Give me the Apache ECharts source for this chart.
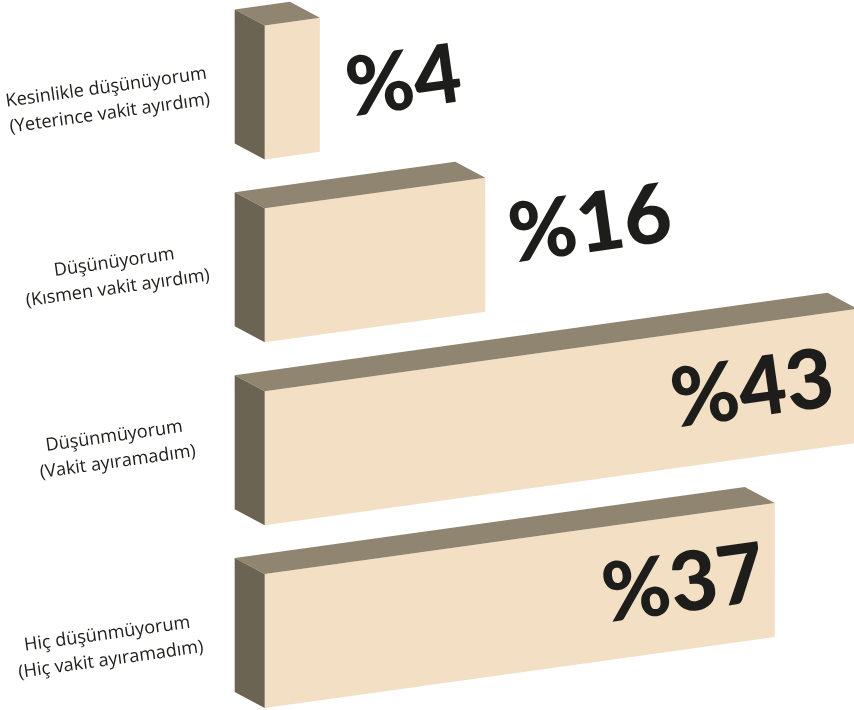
<!DOCTYPE html>
<html><head><meta charset="utf-8">
<script src="https://cdn.jsdelivr.net/npm/echarts@6/dist/echarts.min.js"></script>
<style>html,body{margin:0;background:#fff}#c{width:854px;height:710px}</style></head>
<body><div id="c"></div>
<script>
const categories = [
  'Kesinlikle düşünüyorum\n(Yeterince vakit ayırdım)',
  'Düşünüyorum\n(Kısmen vakit ayırdım)',
  'Düşünmüyorum\n(Vakit ayıramadım)',
  'Hiç düşünmüyorum\n(Hiç vakit ayıramadım)'
];
const values = [4, 16, 43, 37];

const FRONT = '#f3dfc3', TOP = '#8f8570', SIDE = '#6c6452', INK = '#1d1d1b';
const SLOPE = 0.139, DEPTH_X = 30, DEPTH_Y = 16, HALF = 67;
const labelPos = [[108, 8], [116, 0], [116, -9], [109, 6]];
const valuePos = [[84, -10], [105, -50], [-105, -68], [-91, -56]];

const chart = echarts.init(document.getElementById('c'), null, {renderer: 'canvas'});
chart.setOption({
  animation: false,
  grid: {left: 264.7, width: 592.8, top: 92.5, height: 548.5, outerBoundsMode: 'none'},
  xAxis: {type: 'value', min: 0, max: 43, show: false},
  yAxis: {type: 'category', data: categories, inverse: true, boundaryGap: false, show: false},
  series: [{
    type: 'custom',
    clip: false,
    data: values.map((v, i) => [v, i]),
    encode: {x: 0, y: 1},
    renderItem(params, api) {
      const i = api.value(1);
      const v = api.value(0);
      const o = api.coord([0, i]);
      const e = api.coord([v, i]);
      const x0 = o[0], x1 = e[0], c = o[1];
      const dy = (x1 - x0) * SLOPE;
      const tl = [x0, c - HALF], bl = [x0, c + HALF];
      const tr = [x1, c - HALF - dy], br = [x1, c + HALF - dy];
      const shift = p => [p[0] - DEPTH_X, p[1] - DEPTH_Y];
      const poly = (points, fill) => ({type: 'polygon', shape: {points}, style: {fill}});
      return {
        type: 'group',
        children: [
          poly([tl, tr, br, bl], FRONT),
          poly([shift(tl), shift(tr), tr, tl], TOP),
          poly([shift(tl), tl, bl, shift(bl)], SIDE),
          {type: 'text', x: labelPos[i][0], y: c + labelPos[i][1], rotation: 8 * Math.PI / 180,
           style: {text: categories[i], fill: INK, font: '400 18.1px "Open Sans"', lineHeight: 26,
                   align: 'center', verticalAlign: 'middle'}, z2: 5},
          {type: 'text', x: x1 + valuePos[i][0], y: c + valuePos[i][1], rotation: 8 * Math.PI / 180,
           style: {text: '%' + v, fill: INK, font: '900 82px Lato',
                   align: 'center', verticalAlign: 'middle'}, z2: 5}
        ]
      };
    }
  }]
});
</script></body></html>
